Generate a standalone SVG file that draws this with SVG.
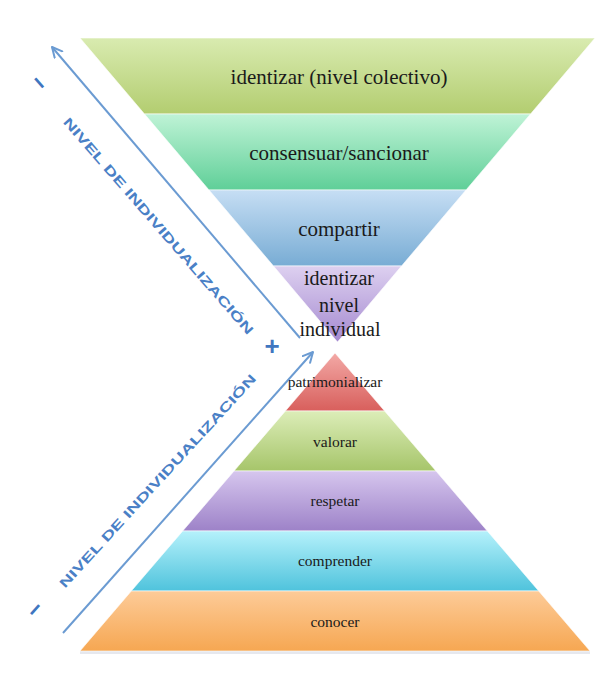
<svg xmlns="http://www.w3.org/2000/svg" width="595" height="689" viewBox="0 0 595 689">
  <defs>
    <linearGradient id="g1" x1="0" y1="0" x2="0" y2="1">
      <stop offset="0" stop-color="#d9ebb0"/>
      <stop offset="1" stop-color="#b3cd70"/>
    </linearGradient>
    <linearGradient id="g2" x1="0" y1="0" x2="0" y2="1">
      <stop offset="0" stop-color="#bff3d6"/>
      <stop offset="1" stop-color="#5fcf98"/>
    </linearGradient>
    <linearGradient id="g3" x1="0" y1="0" x2="0" y2="1">
      <stop offset="0" stop-color="#c6def4"/>
      <stop offset="1" stop-color="#78acd4"/>
    </linearGradient>
    <linearGradient id="g4" x1="0" y1="0" x2="0" y2="1">
      <stop offset="0" stop-color="#ddd0f0"/>
      <stop offset="1" stop-color="#a58ad0"/>
    </linearGradient>
    <linearGradient id="b1" x1="0" y1="0" x2="0" y2="1">
      <stop offset="0" stop-color="#f3a9a6"/>
      <stop offset="1" stop-color="#d85f5c"/>
    </linearGradient>
    <linearGradient id="b2" x1="0" y1="0" x2="0" y2="1">
      <stop offset="0" stop-color="#dcedb8"/>
      <stop offset="1" stop-color="#a6c56a"/>
    </linearGradient>
    <linearGradient id="b3" x1="0" y1="0" x2="0" y2="1">
      <stop offset="0" stop-color="#d6c6ee"/>
      <stop offset="1" stop-color="#9d82c8"/>
    </linearGradient>
    <linearGradient id="b4" x1="0" y1="0" x2="0" y2="1">
      <stop offset="0" stop-color="#b5f1fb"/>
      <stop offset="1" stop-color="#4fc3dc"/>
    </linearGradient>
    <linearGradient id="b5" x1="0" y1="0" x2="0" y2="1">
      <stop offset="0" stop-color="#fdcb98"/>
      <stop offset="1" stop-color="#f6a752"/>
    </linearGradient>
    <marker id="head" viewBox="0 0 12 12" refX="11" refY="6" markerWidth="12" markerHeight="12" markerUnits="userSpaceOnUse" orient="auto">
      <path d="M1,1 L11,6 L1,11" fill="none" stroke="#6b9bd2" stroke-width="2" stroke-linecap="round" stroke-linejoin="round"/>
    </marker>
    <style>
      .band { stroke: #ffffff; stroke-width: 1; stroke-opacity: 0.6; }
      .big { font-family: "Liberation Serif", "DejaVu Serif", serif; font-size: 21px; fill: #1a1a1a; text-anchor: middle; }
      .mid { font-family: "Liberation Serif", "DejaVu Serif", serif; font-size: 20px; fill: #1a1a1a; text-anchor: middle; }
      .small { font-family: "Liberation Serif", "DejaVu Serif", serif; font-size: 15.5px; fill: #1a1a1a; text-anchor: middle; }
      .axis { font-family: "Liberation Sans", "DejaVu Sans", sans-serif; font-size: 13px; font-weight: bold; fill: #4a80c6; text-anchor: middle; }
      .sign { font-family: "Liberation Sans", "DejaVu Sans", sans-serif; font-weight: bold; fill: #3f76c0; text-anchor: middle; }
      .arrow { stroke: #6b9bd2; stroke-width: 2; fill: none; }
    </style>
  </defs>

  <rect width="595" height="689" fill="#ffffff"/>

  <!-- inverted triangle: collective levels -->
  <g id="identizar-colectivo">
    <polygon class="band" points="80,38 595,38 530.5,114 144.5,114" fill="url(#g1)"/>
    <text class="big" x="339" y="84">identizar (nivel colectivo)</text>
  </g>
  <g id="consensuar">
    <polygon class="band" points="144.5,114 530.5,114 466,190 209,190" fill="url(#g2)"/>
    <text class="big" x="339" y="160">consensuar/sancionar</text>
  </g>
  <g id="compartir">
    <polygon class="band" points="209,190 466,190 401.5,266 273.5,266" fill="url(#g3)"/>
    <text class="big" x="339" y="236">compartir</text>
  </g>
  <g id="identizar-individual">
    <polygon class="band" points="273.5,266 401.5,266 337.5,342" fill="url(#g4)"/>
    <text class="mid" x="339" y="285">identizar</text>
    <text class="mid" x="339" y="312">nivel</text>
    <text class="mid" x="340" y="336">individual</text>
  </g>

  <!-- upright pyramid: individual levels -->
  <g id="pyramid-shadow">
    <rect x="80" y="651" width="510" height="3" fill="#e6e8ee"/>
  </g>
  <g id="patrimonializar">
    <polygon class="band" points="335,353 384.6,411 285.4,411" fill="url(#b1)"/>
    <text class="small" x="335" y="387">patrimonializar</text>
  </g>
  <g id="valorar">
    <polygon class="band" points="285.4,411 384.6,411 436,471 234,471" fill="url(#b2)"/>
    <text class="small" x="335" y="447">valorar</text>
  </g>
  <g id="respetar">
    <polygon class="band" points="234,471 436,471 487.3,531 182.7,531" fill="url(#b3)"/>
    <text class="small" x="335" y="506">respetar</text>
  </g>
  <g id="comprender">
    <polygon class="band" points="182.7,531 487.3,531 538.7,591 131.3,591" fill="url(#b4)"/>
    <text class="small" x="335" y="566">comprender</text>
  </g>
  <g id="conocer">
    <polygon class="band" points="131.3,591 538.7,591 590,651 80,651" fill="url(#b5)"/>
    <text class="small" x="335" y="627">conocer</text>
  </g>

  <!-- individualisation axes -->
  <g id="connectors">
    <line class="arrow" x1="300" y1="338" x2="52" y2="47" marker-end="url(#head)"/>
    <line class="arrow" x1="63" y1="633" x2="313" y2="352" marker-end="url(#head)"/>
  </g>

  <g id="axis-upper">
    <text class="axis" transform="translate(155,229) rotate(49)" textLength="282" lengthAdjust="spacingAndGlyphs">NIVEL DE INDIVIDUALIZACIÓN</text>
    <text class="sign" font-size="24" transform="translate(33,88) rotate(49)">−</text>
  </g>
  <g id="axis-lower">
    <text class="axis" transform="translate(161,484) rotate(-47.5)" textLength="284" lengthAdjust="spacingAndGlyphs">NIVEL DE INDIVIDUALIZACIÓN</text>
    <text class="sign" font-size="24" transform="translate(41,615) rotate(-48)">−</text>
  </g>
  <g id="plus">
    <text class="sign" font-size="26" x="272" y="355">+</text>
  </g>
</svg>
